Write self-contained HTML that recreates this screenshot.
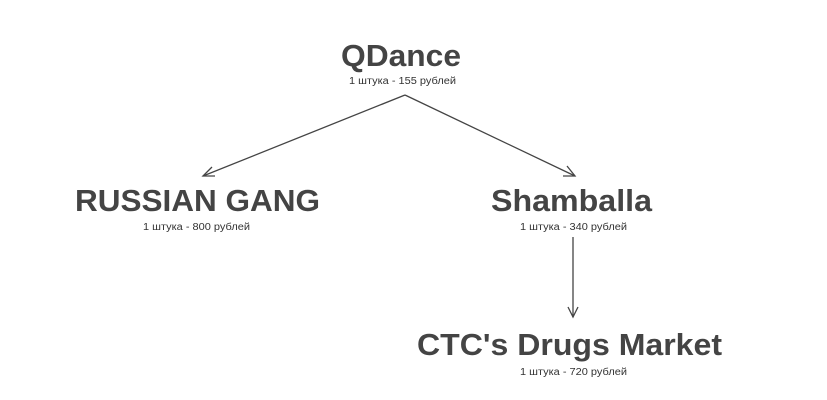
<!DOCTYPE html>
<html><head><meta charset="utf-8"><style>
html,body{margin:0;padding:0;background:#fff;}
svg{display:block;}
.t{font-family:"Liberation Sans",sans-serif;font-weight:bold;font-size:31px;fill:#444;}
.s{font-family:"Liberation Sans",sans-serif;font-size:10px;fill:#333;}
</style></head><body>
<svg width="827" height="400" viewBox="0 0 827 400" xmlns="http://www.w3.org/2000/svg">
<text class="t" x="341" y="66" textLength="120" lengthAdjust="spacingAndGlyphs">QDance</text>
<text class="s" x="349" y="84" textLength="107" lengthAdjust="spacingAndGlyphs">1 штука - 155 рублей</text>
<text class="t" x="75" y="211" textLength="245" lengthAdjust="spacingAndGlyphs">RUSSIAN GANG</text>
<text class="s" x="143" y="230" textLength="107" lengthAdjust="spacingAndGlyphs">1 штука - 800 рублей</text>
<text class="t" x="491" y="211" textLength="161" lengthAdjust="spacingAndGlyphs">Shamballa</text>
<text class="s" x="520" y="230" textLength="107" lengthAdjust="spacingAndGlyphs">1 штука - 340 рублей</text>
<text class="t" x="417" y="355" textLength="305" lengthAdjust="spacingAndGlyphs">CTC's Drugs Market</text>
<text class="s" x="520" y="375" textLength="107" lengthAdjust="spacingAndGlyphs">1 штука - 720 рублей</text>
<g stroke="#444" stroke-width="1.3" fill="none">
<line x1="405" y1="95" x2="203" y2="176"/>
<polyline points="212,167 203,176 215,176"/>
<line x1="405" y1="95" x2="575" y2="176"/>
<polyline points="563,176 575,176 567,166"/>
<line x1="573" y1="237" x2="573" y2="317"/>
<polyline points="568,307 573,317 578,307"/>
</g>
</svg>
</body></html>
